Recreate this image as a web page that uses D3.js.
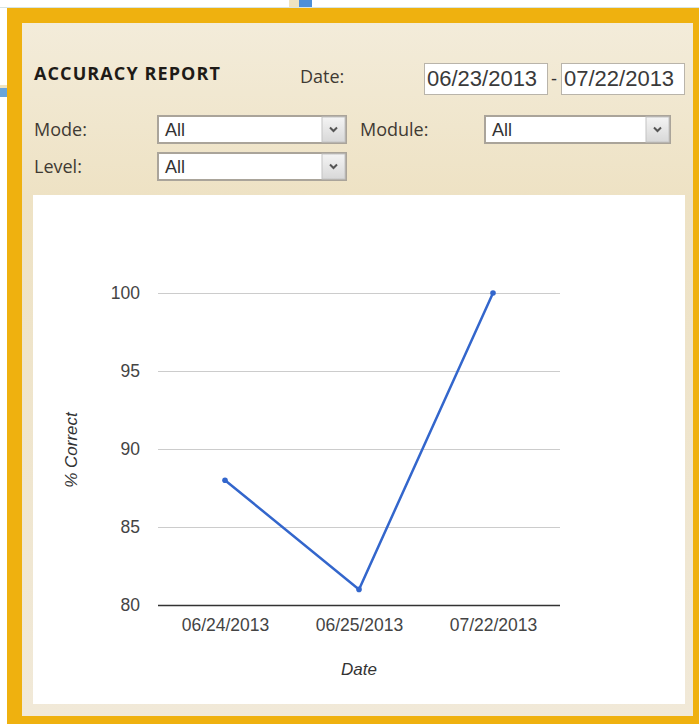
<!DOCTYPE html>
<html>
<head>
<meta charset="utf-8">
<script src="https://cdn.jsdelivr.net/npm/d3@7"></script>
<style>
  body { margin: 0; background: #fff; }
  .lbl { font-family: "Open Sans", sans-serif; fill: #3f3a33; }
  .axis text { font-family: Arial, "Liberation Sans", sans-serif; font-size: 17.5px; fill: #444; }
</style>
</head>
<body>
<svg id="report" width="699" height="724"></svg>
<script>
// chart values
var dates = ["06/24/2013", "06/25/2013", "07/22/2013"];
var pctCorrect = [88, 81, 100];
var yTicks = [80, 85, 90, 95, 100];
var dateRange = ["06/23/2013", "07/22/2013"];

var svg = d3.select("#report");

// page bits around the panel
svg.append("rect").attr("x", 0).attr("y", 7).attr("width", 699).attr("height", 1).attr("fill", "#d6e4e4");
svg.append("rect").attr("x", 289).attr("y", 0).attr("width", 10).attr("height", 7).attr("fill", "#efe3c0");
svg.append("rect").attr("x", 299).attr("y", 0).attr("width", 13).attr("height", 7).attr("fill", "#4d8fd8");
svg.append("rect").attr("x", 0).attr("y", 85).attr("width", 7).attr("height", 3).attr("fill", "#efe3c0");
svg.append("rect").attr("x", 0).attr("y", 88).attr("width", 7).attr("height", 9).attr("fill", "#6aa5dc");

// gradient for the beige panel
var defs = svg.append("defs");
var grad = defs.append("linearGradient").attr("id", "panelGrad").attr("x1", 0).attr("y1", 0).attr("x2", 0).attr("y2", 1);
grad.append("stop").attr("offset", "0%").attr("stop-color", "#f3ecda");
grad.append("stop").attr("offset", "25%").attr("stop-color", "#eee2c4");
grad.append("stop").attr("offset", "100%").attr("stop-color", "#f1e9d8");
var btnGrad = defs.append("linearGradient").attr("id", "btnGrad").attr("x1", 0).attr("y1", 0).attr("x2", 0).attr("y2", 1);
btnGrad.append("stop").attr("offset", "0%").attr("stop-color", "#f4f4f4");
btnGrad.append("stop").attr("offset", "100%").attr("stop-color", "#d8d8d8");

// orange frame + panel
svg.append("rect").attr("x", 7).attr("y", 8).attr("width", 692).attr("height", 716).attr("fill", "#efb10f");
svg.append("rect").attr("x", 22).attr("y", 23).attr("width", 671).attr("height", 693).attr("fill", "url(#panelGrad)");
svg.append("rect").attr("x", 33).attr("y", 195).attr("width", 652).attr("height", 509).attr("fill", "#fff");

// header
svg.append("text").attr("x", 34).attr("y", 80)
    .attr("font-family", "'Open Sans', sans-serif")
    .attr("font-size", 18).attr("font-weight", "bold").attr("letter-spacing", 1.1).attr("fill", "#1e1b17")
    .text("ACCURACY REPORT");
svg.append("text").attr("class", "lbl").attr("x", 300).attr("y", 83).attr("font-size", 18).text("Date:");

function textBox(x, y, w, h, txt, size) {
  svg.append("rect").attr("x", x + 0.5).attr("y", y + 0.5).attr("width", w).attr("height", h)
      .attr("fill", "#fff").attr("stroke", "#b9b4aa");
  svg.append("text").attr("x", x + 3).attr("y", y + h / 2).attr("dy", "0.36em")
      .attr("font-family", "Arial, 'Liberation Sans', sans-serif").attr("font-size", size)
      .attr("fill", "#3a3a3a").text(txt);
}
textBox(424, 63, 123, 31, dateRange[0], 22);
svg.append("text").attr("x", 551).attr("y", 79).attr("dy", "0.36em")
    .attr("font-family", "Arial, sans-serif").attr("font-size", 18).attr("fill", "#333").text("-");
textBox(561, 63, 123, 31, dateRange[1], 22);

// select controls
function selectBox(x, y, w, h, txt) {
  svg.append("rect").attr("x", x + 1).attr("y", y + 1).attr("width", w - 2).attr("height", h - 2)
      .attr("fill", "#fff").attr("stroke", "#aaa49a").attr("stroke-width", 2);
  svg.append("text").attr("x", x + 8).attr("y", y + h / 2).attr("dy", "0.36em")
      .attr("font-family", "Arial, 'Liberation Sans', sans-serif").attr("font-size", 18)
      .attr("fill", "#333").text(txt);
  var bx = x + w - 25;
  svg.append("rect").attr("x", bx).attr("y", y + 2).attr("width", 23).attr("height", h - 4)
      .attr("fill", "url(#btnGrad)").attr("stroke", "#c4c4c4");
  svg.append("path")
      .attr("d", "M" + (bx + 8) + "," + (y + h / 2 - 2) + "l3.5,3.5l3.5,-3.5")
      .attr("fill", "none").attr("stroke", "#555").attr("stroke-width", 2);
}
svg.append("text").attr("class", "lbl").attr("x", 34).attr("y", 136).attr("font-size", 18).text("Mode:");
selectBox(157, 115, 190, 29, "All");
svg.append("text").attr("class", "lbl").attr("x", 360).attr("y", 136).attr("font-size", 18).text("Module:");
selectBox(484, 115, 187, 29, "All");
svg.append("text").attr("class", "lbl").attr("x", 34).attr("y", 173).attr("font-size", 18).text("Level:");
selectBox(157, 152, 190, 29, "All");

// line chart
var plotLeft = 158, plotRight = 560, plotTop = 293, plotBottom = 605;

var x = d3.scalePoint()
    .domain(dates)
    .range([plotLeft, plotRight])
    .padding(0.5);

var y = d3.scaleLinear()
    .domain([80, 100])
    .range([plotBottom, plotTop]);

var yAxis = svg.append("g")
    .attr("class", "axis")
    .attr("transform", "translate(" + plotLeft + ",0)")
    .call(d3.axisLeft(y).tickValues(yTicks).tickSize(-(plotRight - plotLeft)).tickPadding(18));
yAxis.select(".domain").remove();
yAxis.selectAll(".tick line").attr("stroke", "#ccc");
yAxis.selectAll(".tick").filter(function(d) { return d === 80; }).select("line")
    .attr("stroke", "#333").attr("stroke-width", 1.5);

var xAxis = svg.append("g")
    .attr("class", "axis")
    .attr("transform", "translate(0," + plotBottom + ")")
    .call(d3.axisBottom(x).tickSize(0).tickPadding(14));
xAxis.select(".domain").remove();

var line = d3.line()
    .x(function(d, i) { return x(dates[i]); })
    .y(function(d) { return y(d); });

svg.append("path")
    .datum(pctCorrect)
    .attr("fill", "none")
    .attr("stroke", "#3366cc")
    .attr("stroke-width", 2.5)
    .attr("d", line);

svg.selectAll(".pt")
    .data(pctCorrect)
    .enter().append("circle")
      .attr("class", "pt")
      .attr("cx", function(d, i) { return x(dates[i]); })
      .attr("cy", function(d) { return y(d); })
      .attr("r", 2.8)
      .attr("fill", "#3366cc");

// axis titles
svg.append("text")
    .attr("transform", "translate(77,450) rotate(-90)")
    .attr("text-anchor", "middle")
    .attr("font-family", "Arial, 'Liberation Sans', sans-serif")
    .attr("font-size", 17).attr("font-style", "italic").attr("fill", "#333")
    .text("% Correct");

svg.append("text")
    .attr("x", (plotLeft + plotRight) / 2).attr("y", 675)
    .attr("text-anchor", "middle")
    .attr("font-family", "Arial, 'Liberation Sans', sans-serif")
    .attr("font-size", 17).attr("font-style", "italic").attr("fill", "#333")
    .text("Date");
</script>
</body>
</html>
